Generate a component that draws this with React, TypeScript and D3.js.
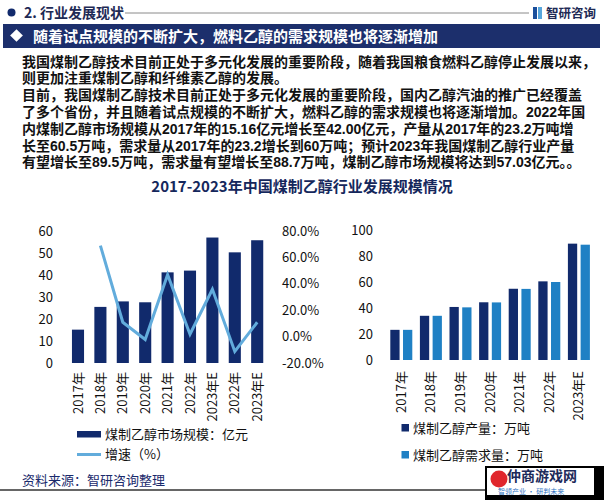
import React from "react";
import * as d3 from "d3";

const leftCategories = ["2017年", "2018年", "2019年", "2020年", "2021年", "2022年", "2023年E", "2022年", "2023年E"];
const marketSize = [15.16, 25.5, 28, 27.6, 41.2, 42.0, 57.03, 50.3, 55.8];
const growthRate: (number | null)[] = [null, 69, 11, -2, 47, 2, 36, -11, 11];
const leftTicks = [0, 10, 20, 30, 40, 50, 60];
const rightPctTicks = [-20, 0, 20, 40, 60, 80];

const rightCategories = ["2017年", "2018年", "2019年", "2020年", "2021年", "2022年", "2023年E"];
const production = [23.2, 34, 40.8, 44.4, 54.8, 60.5, 89.5];
const demand = [23.2, 34, 40.5, 44.3, 54.7, 60, 88.7];
const volumeTicks = [0, 20, 40, 60, 80, 100];

const paragraphLines = [
  "我国煤制乙醇技术目前正处于多元化发展的重要阶段，随着我国粮食燃料乙醇停止发展以来，",
  "则更加注重煤制乙醇和纤维素乙醇的发展。",
  "目前，我国煤制乙醇技术目前正处于多元化发展的重要阶段，国内乙醇汽油的推广已经覆盖",
  "了多个省份，并且随着试点规模的不断扩大，燃料乙醇的需求规模也将逐渐增加。2022年国",
  "内煤制乙醇市场规模从2017年的15.16亿元增长至42.00亿元，产量从2017年的23.2万吨增",
  "长至60.5万吨，需求量从2017年的23.2增长到60万吨；预计2023年我国煤制乙醇行业产量",
  "有望增长至89.5万吨，需求量有望增长至88.7万吨，煤制乙醇市场规模将达到57.03亿元。。",
];

const NAVY = "#112a6c";
const LIGHT_LINE = "#62acdc";
const LIGHT_BAR = "#1f80c4";
const FONT = "'Noto Sans CJK SC', 'Noto Sans', sans-serif";
const PARA_FONT = "'Liberation Sans', 'Noto Sans CJK SC', sans-serif";

export default function App() {
  // Left chart scales
  const xL = d3
    .scaleBand<number>()
    .domain(leftCategories.map((_, i) => i))
    .range([66.8, 268.4])
    .paddingInner(0.46)
    .paddingOuter(0.23);
  const yL = d3.scaleLinear().domain([0, 60]).range([363, 231]);
  const yPct = d3.scaleLinear().domain([-20, 80]).range([363.3, 231]);

  const linePts = growthRate
    .map((v, i) => (v === null ? null : ([xL(i)! + xL.bandwidth() / 2, yPct(v)] as [number, number])))
    .filter((p): p is [number, number] => p !== null);
  const lineGen = d3.line<[number, number]>();

  // Right chart scales
  const xR = d3
    .scaleBand<number>()
    .domain(rightCategories.map((_, i) => i))
    .range([386.5, 593.7])
    .paddingInner(0.257)
    .paddingOuter(0.1285);
  const xSub = d3.scaleBand<number>().domain([0, 1]).range([0, xR.bandwidth()]).paddingInner(0.27);
  const yR = d3.scaleLinear().domain([0, 100]).range([360, 230]);

  return (
    <svg
      width={604}
      height={500}
      style={{ position: "absolute", left: 0, top: 0, background: "#fff" }}
      fontFamily={FONT}
    >
      <rect x={0} y={0} width={604} height={500} fill="#fff" />

      {/* header */}
      <circle cx={11.5} cy={12.5} r={4} fill={NAVY} />
      <text x={24} y={17.5} fontSize={14} fontWeight="bold" fill="#1e2a55">
        2. 行业发展现状
      </text>
      <line x1={125} x2={529} y1={13} y2={13} stroke="#8a8a8a" strokeWidth={1} />
      <g>
        <rect x={533} y={7} width={4} height={12} fill="#1a4f9c" />
        <rect x={538} y={7} width={4} height={12} fill="#57a6dc" />
      </g>
      <text x={546} y={17.5} fontSize={12.5} fontWeight="bold" fill="#1e2a55">
        智研咨询
      </text>

      {/* banner */}
      <rect x={3} y={24} width={597} height={24} fill="#1c2f6c" />
      <rect x={12} y={31} width={9} height={9} fill="#fff" transform="rotate(45,16.5,35.5)" />
      <text x={33} y={41.5} fontSize={15} fontWeight="bold" fill="#fff">
        随着试点规模的不断扩大，燃料乙醇的需求规模也将逐渐增加
      </text>

      {/* paragraph */}
      <g fontSize={14} fontWeight={600} fill="#111" fontFamily={PARA_FONT}>
        {paragraphLines.map((t, i) => (
          <text key={i} x={22} y={66.5 + i * 16.8}>
            {t}
          </text>
        ))}
      </g>

      {/* chart title */}
      <text x={302} y={192} textAnchor="middle" fontSize={15} fontWeight="bold" fill="#15275c">
        2017-2023年中国煤制乙醇行业发展规模情况
      </text>

      {/* left chart */}
      <g fontSize={13} fill="#111">
        {leftTicks.map((t) => (
          <text key={t} x={53} y={yL(t) + 4.5} textAnchor="end">
            {t}
          </text>
        ))}
        {rightPctTicks.map((t) => (
          <text key={t} x={282} y={yPct(t) + 4.5}>
            {t.toFixed(1) + "%"}
          </text>
        ))}
      </g>
      {marketSize.map((v, i) => (
        <rect key={i} x={xL(i)!} y={yL(v)} width={xL.bandwidth()} height={yL(0) - yL(v)} fill={NAVY} />
      ))}
      <path d={lineGen(linePts) || ""} fill="none" stroke={LIGHT_LINE} strokeWidth={3} strokeLinejoin="miter" />
      <g fontSize={13} fill="#111">
        {leftCategories.map((c, i) => (
          <text
            key={i}
            transform={`translate(${xL(i)! + xL.bandwidth() / 2 + 4.5},372) rotate(-90)`}
            textAnchor="end"
          >
            {c}
          </text>
        ))}
      </g>
      {/* left legend */}
      <rect x={77} y={431} width={24} height={6.5} fill={NAVY} />
      <text x={105} y={439} fontSize={13} fill="#111">
        煤制乙醇市场规模：亿元
      </text>
      <line x1={77} x2={101} y1={454.5} y2={454.5} stroke={LIGHT_LINE} strokeWidth={3} />
      <text x={105} y={459} fontSize={13} fill="#111">
        增速（%）
      </text>

      {/* right chart */}
      <g fontSize={13} fill="#111">
        {volumeTicks.map((t) => (
          <text key={t} x={373} y={yR(t) + 4.5} textAnchor="end">
            {t}
          </text>
        ))}
      </g>
      {rightCategories.map((_, i) => (
        <g key={i} transform={`translate(${xR(i)!},0)`}>
          <rect x={xSub(0)!} y={yR(production[i])} width={xSub.bandwidth()} height={yR(0) - yR(production[i])} fill={NAVY} />
          <rect x={xSub(1)!} y={yR(demand[i])} width={xSub.bandwidth()} height={yR(0) - yR(demand[i])} fill={LIGHT_BAR} />
        </g>
      ))}
      <g fontSize={13} fill="#111">
        {rightCategories.map((c, i) => (
          <text
            key={i}
            transform={`translate(${xR(i)! + xR.bandwidth() / 2 + 4.5},371) rotate(-90)`}
            textAnchor="end"
          >
            {c}
          </text>
        ))}
      </g>
      {/* right legend */}
      <rect x={401.5} y={424} width={7.5} height={7.5} fill={NAVY} />
      <text x={413} y={432.5} fontSize={13} fill="#111">
        煤制乙醇产量：万吨
      </text>
      <rect x={401.5} y={451} width={7.5} height={7.5} fill={LIGHT_BAR} />
      <text x={413} y={459.5} fontSize={13} fill="#111">
        煤制乙醇需求量：万吨
      </text>

      {/* source */}
      <text x={22} y={485} fontSize={13} fill="#1a2a6c">
        资料来源：智研咨询整理
      </text>
      <line x1={0} x2={486} y1={490} y2={490} stroke="#333" strokeWidth={1.5} />

      {/* bottom-right overlay badge */}
      <rect x={485} y={466} width={119} height={34} fill="#000" />
      <rect x={487} y={468} width={107} height={27} fill="#fff" />
      <circle cx={499} cy={479} r={8.5} fill="#e0262c" />
      <text x={507} y={481} fontSize={14} fontWeight="bold" fill="#1c2a5a">
        仲商游戏网
      </text>
      <text x={498} y={494} fontSize={7} fill="#2a6fc0">
        智领产业 · 研判未来
      </text>
    </svg>
  );
}
